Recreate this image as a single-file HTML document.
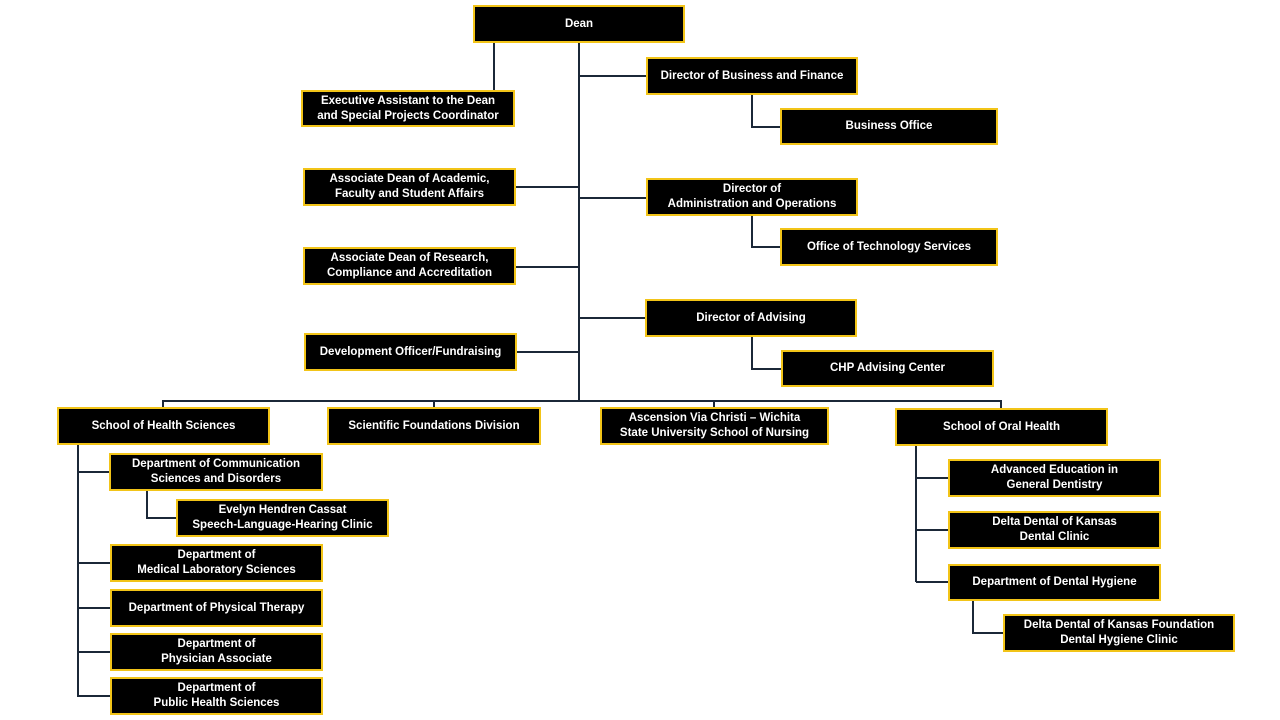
<!DOCTYPE html>
<html><head><meta charset="utf-8"><style>
body{margin:0;width:1280px;height:720px;background:#fff;position:relative;overflow:hidden;font-family:"Liberation Sans",Arial,sans-serif}
.b{position:absolute;box-sizing:border-box;background:#000;border:2px solid #f2c418;color:#fff;font-weight:bold;font-size:11.5px;line-height:15px;display:flex;align-items:center;justify-content:center;text-align:center;white-space:nowrap}
svg{position:absolute;left:0;top:0}
</style></head><body>
<svg width="1280" height="720"><g stroke="#1b2838" stroke-width="2" fill="none">
<path d="M579 43V401M494 43V90M579 76H646M579 198H646M579 318H645M516 187H579M516 267H579M517 352H579"/>
<path d="M752 95V127H780M752 216V247H780M752 337V369H781"/>
<path d="M163 407V401H1001V408M434 401V407M714 401V407"/>
<path d="M78 445V697M78 472H109M78 563H110M78 608H110M78 652H110M78 696H110M147 491V518H176"/>
<path d="M916 446V582M916 478H948M916 530H948M916 582H948M973 601V633H1003"/>
</g></svg>
<div class="b" style="left:473px;top:5px;width:212px;height:38px">Dean</div>
<div class="b" style="left:301px;top:90px;width:214px;height:37px">Executive Assistant to the Dean<br>and Special Projects Coordinator</div>
<div class="b" style="left:303px;top:168px;width:213px;height:38px">Associate Dean of Academic,<br>Faculty and Student Affairs</div>
<div class="b" style="left:303px;top:247px;width:213px;height:38px">Associate Dean of Research,<br>Compliance and Accreditation</div>
<div class="b" style="left:304px;top:333px;width:213px;height:38px">Development Officer/Fundraising</div>
<div class="b" style="left:646px;top:57px;width:212px;height:38px">Director of Business and Finance</div>
<div class="b" style="left:780px;top:108px;width:218px;height:37px">Business Office</div>
<div class="b" style="left:646px;top:178px;width:212px;height:38px">Director of<br>Administration and Operations</div>
<div class="b" style="left:780px;top:228px;width:218px;height:38px">Office of Technology Services</div>
<div class="b" style="left:645px;top:299px;width:212px;height:38px">Director of Advising</div>
<div class="b" style="left:781px;top:350px;width:213px;height:37px">CHP Advising Center</div>
<div class="b" style="left:57px;top:407px;width:213px;height:38px">School of Health Sciences</div>
<div class="b" style="left:327px;top:407px;width:214px;height:38px">Scientific Foundations Division</div>
<div class="b" style="left:600px;top:407px;width:229px;height:38px">Ascension Via Christi – Wichita<br>State University School of Nursing</div>
<div class="b" style="left:895px;top:408px;width:213px;height:38px">School of Oral Health</div>
<div class="b" style="left:109px;top:453px;width:214px;height:38px">Department of Communication<br>Sciences and Disorders</div>
<div class="b" style="left:176px;top:499px;width:213px;height:38px">Evelyn Hendren Cassat<br>Speech-Language-Hearing Clinic</div>
<div class="b" style="left:110px;top:544px;width:213px;height:38px">Department of<br>Medical Laboratory Sciences</div>
<div class="b" style="left:110px;top:589px;width:213px;height:38px">Department of Physical Therapy</div>
<div class="b" style="left:110px;top:633px;width:213px;height:38px">Department of<br>Physician Associate</div>
<div class="b" style="left:110px;top:677px;width:213px;height:38px">Department of<br>Public Health Sciences</div>
<div class="b" style="left:948px;top:459px;width:213px;height:38px">Advanced Education in<br>General Dentistry</div>
<div class="b" style="left:948px;top:511px;width:213px;height:38px">Delta Dental of Kansas<br>Dental Clinic</div>
<div class="b" style="left:948px;top:564px;width:213px;height:37px">Department of Dental Hygiene</div>
<div class="b" style="left:1003px;top:614px;width:232px;height:38px">Delta Dental of Kansas Foundation<br>Dental Hygiene Clinic</div>
</body></html>
